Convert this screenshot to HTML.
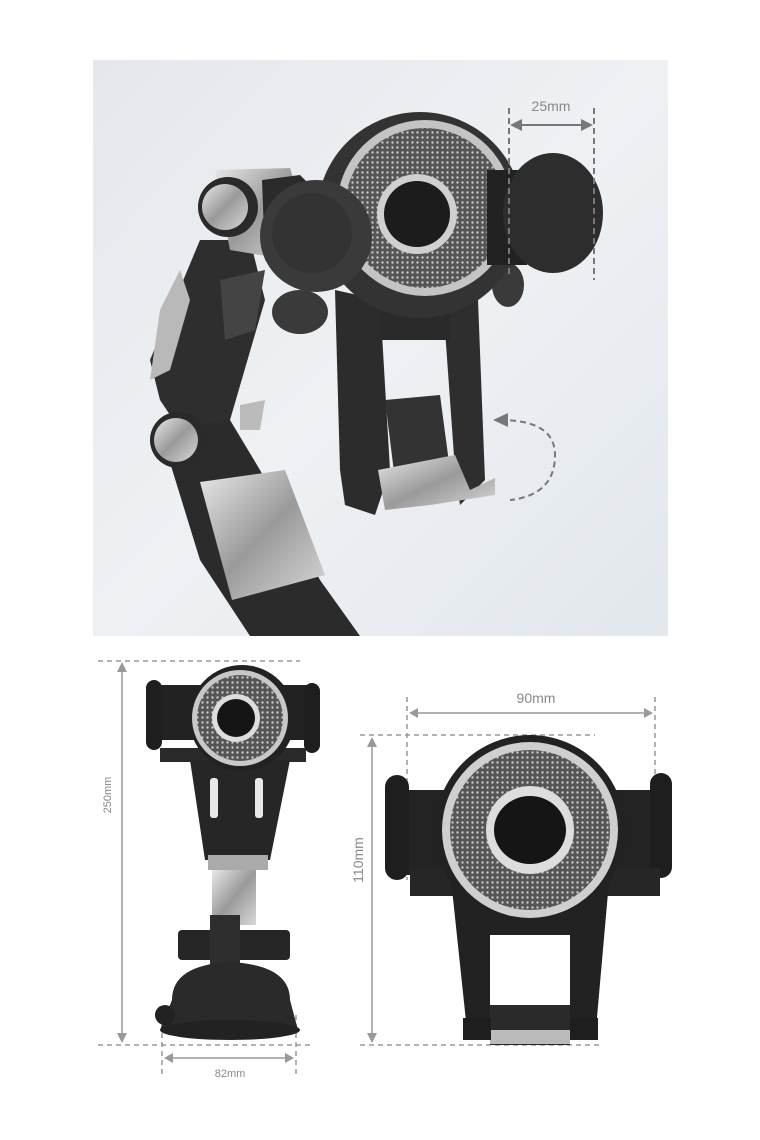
<!DOCTYPE html>
<html><head><meta charset="utf-8"><style>
html,body{margin:0;padding:0;background:#fff;}
svg{display:block;}
text{font-family:"Liberation Sans",sans-serif;fill:#888;}
</style></head><body>
<svg width="760" height="1140" viewBox="0 0 760 1140" xmlns="http://www.w3.org/2000/svg">
<defs>
<linearGradient id="bg" x1="0" y1="0" x2="1" y2="1">
<stop offset="0" stop-color="#e4e8ec"/><stop offset="0.5" stop-color="#eef1f4"/><stop offset="1" stop-color="#e2e7ec"/>
</linearGradient>
<linearGradient id="sil" x1="0" y1="0" x2="1" y2="1">
<stop offset="0" stop-color="#e8e8e8"/><stop offset="0.5" stop-color="#9a9a9a"/><stop offset="1" stop-color="#d8d8d8"/>
</linearGradient>
<pattern id="mesh" width="5" height="5" patternUnits="userSpaceOnUse">
<rect width="5" height="5" fill="#555"/><circle cx="2.5" cy="2.5" r="1.2" fill="#c8c8c8"/>
</pattern>
</defs>
<rect width="760" height="1140" fill="#fff"/>
<rect x="93" y="60" width="575" height="576" fill="url(#bg)"/>
<polygon points="200,240 250,240 265,300 230,420 200,460 160,400 150,360" fill="#2e2e2e"/>
<polygon points="160,310 180,270 190,300 170,370 150,380" fill="#b9b9b9"/>
<polygon points="220,280 265,270 255,330 225,340" fill="#444"/>
<polygon points="160,430 230,420 260,470 320,580 360,636 250,636 200,560" fill="#2b2b2b"/>
<polygon points="200,482 285,470 325,575 232,600" fill="url(#sil)"/>
<polygon points="240,405 265,400 260,430 240,430" fill="#bbb"/>
<circle cx="178" cy="440" r="28" fill="#2a2a2a"/>
<circle cx="176" cy="440" r="22" fill="url(#sil)"/>
<polygon points="215,170 290,168 300,200 290,260 230,250" fill="url(#sil)"/>
<circle cx="228" cy="207" r="30" fill="#2a2a2a"/>
<circle cx="225" cy="207" r="23" fill="url(#sil)"/>
<polygon points="335,290 380,300 390,470 375,515 345,505 340,470" fill="#2c2c2c"/>
<polygon points="430,300 478,300 485,480 460,505 455,470 445,330" fill="#2e2e2e"/>
<rect x="380" y="310" width="70" height="30" fill="#2a2a2a"/>
<polygon points="385,400 440,395 450,470 395,480" fill="#333"/>
<polygon points="378,470 455,455 470,490 495,478 495,495 430,505 385,510" fill="url(#sil)"/>
<ellipse cx="300" cy="312" rx="28" ry="22" fill="#3a3a3a"/>
<ellipse cx="508" cy="285" rx="16" ry="22" fill="#3a3a3a"/>
<circle cx="420" cy="215" r="103" fill="#333"/>
<circle cx="425" cy="208" r="88" fill="#c4c4c4"/>
<circle cx="425" cy="208" r="80" fill="url(#mesh)"/>
<circle cx="417" cy="214" r="40" fill="#d0d0d0"/>
<circle cx="417" cy="214" r="33" fill="#1c1c1c"/>
<polygon points="262,180 300,175 325,200 300,290 265,260" fill="#2b2b2b"/>
<circle cx="316" cy="236" r="56" fill="#3a3a3a"/>
<circle cx="312" cy="233" r="40" fill="#333"/>
<rect x="487" y="170" width="40" height="95" fill="#222"/>
<ellipse cx="553" cy="213" rx="50" ry="60" fill="#2d2d2d"/>
<g stroke="#777" stroke-width="2" stroke-dasharray="6,4" fill="none">
<line x1="509" y1="108" x2="509" y2="275"/><line x1="594" y1="108" x2="594" y2="280"/>
<path d="M500,420 Q555,420 555,455 Q555,495 510,500"/>
</g>
<line x1="512" y1="125" x2="591" y2="125" stroke="#777" stroke-width="2"/>
<polygon points="510,125 522,119 522,131" fill="#777"/><polygon points="593,125 581,119 581,131" fill="#777"/>
<polygon points="493,420 508,413 508,427" fill="#777"/>
<text x="551" y="111" font-size="14" text-anchor="middle" fill="#666">25mm</text>

<g stroke="#999" stroke-width="1.5" stroke-dasharray="5,4" fill="none">
<line x1="98" y1="661" x2="300" y2="661"/><line x1="98" y1="1045" x2="310" y2="1045"/>
<line x1="162" y1="1015" x2="162" y2="1078"/><line x1="296" y1="1015" x2="296" y2="1078"/>
<line x1="407" y1="697" x2="407" y2="880"/><line x1="655" y1="697" x2="655" y2="880"/>
<line x1="360" y1="735" x2="595" y2="735"/><line x1="360" y1="1045" x2="600" y2="1045"/>
</g>
<g stroke="#999" stroke-width="1.5">
<line x1="122" y1="665" x2="122" y2="1040"/><line x1="166" y1="1058" x2="292" y2="1058"/>
<line x1="411" y1="713" x2="651" y2="713"/><line x1="372" y1="739" x2="372" y2="1041"/>
</g>
<g fill="#999">
<polygon points="122,662 117,672 127,672"/><polygon points="122,1043 117,1033 127,1033"/>
<polygon points="164,1058 173,1053 173,1063"/><polygon points="294,1058 285,1053 285,1063"/>
<polygon points="409,713 418,708 418,718"/><polygon points="653,713 644,708 644,718"/>
<polygon points="372,737 367,747 377,747"/><polygon points="372,1043 367,1033 377,1033"/>
</g>
<text x="0" y="0" font-size="11" text-anchor="middle" transform="translate(111,795) rotate(-90)">250mm</text>
<text x="230" y="1077" font-size="11" text-anchor="middle">82mm</text>
<text x="536" y="703" font-size="14" text-anchor="middle" fill="#777">90mm</text>
<text x="0" y="0" font-size="14" text-anchor="middle" transform="translate(363,860) rotate(-90)" fill="#777">110mm</text>

<rect x="148" y="685" width="170" height="55" rx="8" fill="#222"/>
<rect x="146" y="680" width="16" height="70" rx="8" fill="#1e1e1e"/>
<rect x="304" y="683" width="16" height="70" rx="8" fill="#1e1e1e"/>
<rect x="160" y="748" width="146" height="14" fill="#2a2a2a"/>
<polygon points="190,760 290,760 270,860 205,860" fill="#262626"/>
<rect x="210" y="778" width="8" height="40" rx="3" fill="#e8e8e8"/>
<rect x="255" y="778" width="8" height="40" rx="3" fill="#e8e8e8"/>
<rect x="208" y="855" width="60" height="15" fill="#aaa"/>
<rect x="212" y="870" width="44" height="55" fill="url(#sil)"/>
<rect x="178" y="930" width="112" height="30" rx="4" fill="#262626"/>
<rect x="210" y="915" width="30" height="60" fill="#2e2e2e"/>
<path d="M172,1000 Q172,965 230,962 Q290,965 290,1000 L298,1030 L160,1030 Z" fill="#2a2a2a"/>
<ellipse cx="230" cy="1030" rx="70" ry="10" fill="#222"/>
<circle cx="165" cy="1015" r="10" fill="#222"/>
<circle cx="242" cy="718" r="53" fill="#222"/>
<circle cx="240" cy="718" r="48" fill="#c8c8c8"/>
<circle cx="240" cy="718" r="43" fill="url(#mesh)"/>
<circle cx="236" cy="718" r="24" fill="#ddd"/>
<circle cx="236" cy="718" r="19" fill="#151515"/>

<rect x="395" y="790" width="270" height="85" fill="#232323"/>
<rect x="385" y="775" width="24" height="105" rx="12" fill="#1e1e1e"/>
<rect x="650" y="773" width="22" height="105" rx="11" fill="#1e1e1e"/>
<rect x="410" y="868" width="250" height="28" fill="#262626"/>
<polygon points="450,870 610,870 595,1040 468,1040" fill="#222"/>
<rect x="490" y="935" width="80" height="72" fill="#fff"/>
<rect x="490" y="1005" width="80" height="40" fill="#2a2a2a"/>
<rect x="490" y="1030" width="80" height="14" fill="#bbb"/>
<rect x="463" y="1018" width="28" height="22" fill="#1e1e1e"/>
<rect x="570" y="1018" width="28" height="22" fill="#1e1e1e"/>
<circle cx="530" cy="830" r="95" fill="#222"/>
<circle cx="530" cy="830" r="88" fill="#cfcfcf"/>
<circle cx="530" cy="830" r="80" fill="url(#mesh)"/>
<circle cx="530" cy="830" r="44" fill="#ddd"/>
<ellipse cx="530" cy="830" rx="36" ry="34" fill="#151515"/>
</svg>
</body></html>
